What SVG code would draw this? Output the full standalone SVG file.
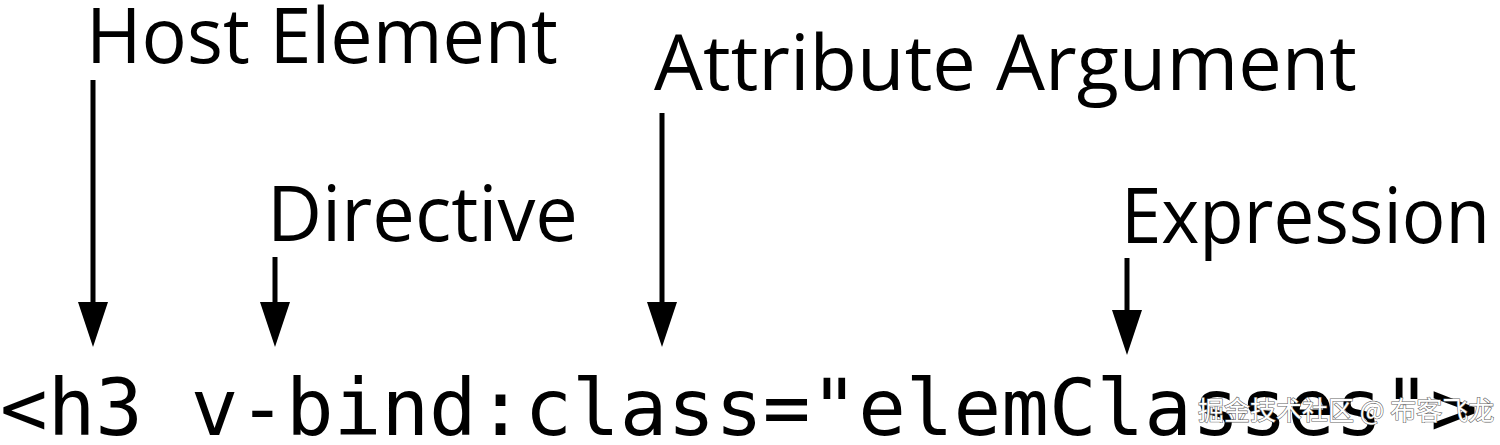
<svg xmlns="http://www.w3.org/2000/svg" width="1500" height="445" viewBox="0 0 1500 445">
<style>
.label{font-family:"Open Sans","Noto Sans","DejaVu Sans",sans-serif;font-size:77px;fill:#000}
.code{font-family:"DejaVu Sans Mono","Liberation Mono",monospace;font-size:79px;fill:#000}
.wm{font-family:"Noto Sans CJK SC","Noto Sans",sans-serif;font-size:26px;fill:#fff;stroke:#666;stroke-width:1.2px;paint-order:stroke}
.conn line{stroke:#000;stroke-width:5}
</style>
<defs>
<marker id="ah" viewBox="0 0 45 30" refX="0" refY="15" markerWidth="45" markerHeight="30" markerUnits="userSpaceOnUse" orient="auto">
<path d="M0,0 L45,15 L0,30 z" fill="#000"/>
</marker>
</defs>
<rect width="1500" height="445" fill="#fff"/>
<g id="host-element"><text class="label" x="86" y="63" textLength="472" lengthAdjust="spacingAndGlyphs">Host Element</text></g>
<g id="attribute-argument"><text class="label" x="654" y="90" textLength="703" lengthAdjust="spacingAndGlyphs">Attribute Argument</text></g>
<g id="directive"><text class="label" x="267" y="241" textLength="311" lengthAdjust="spacingAndGlyphs">Directive</text></g>
<g id="expression"><text class="label" x="1121" y="243" textLength="369" lengthAdjust="spacingAndGlyphs">Expression</text></g>
<g id="code"><text class="code" x="0" y="435" textLength="1478" lengthAdjust="spacingAndGlyphs">&lt;h3 v-bind:class="elemClasses"&gt;</text></g>
<g id="connectors" class="conn">
<line x1="93" y1="80" x2="93" y2="302" marker-end="url(#ah)"/>
<line x1="275" y1="257" x2="275" y2="302" marker-end="url(#ah)"/>
<line x1="662" y1="113" x2="662" y2="302" marker-end="url(#ah)"/>
<line x1="1127" y1="258" x2="1127" y2="310" marker-end="url(#ah)"/>
</g>
<g id="watermark"><text class="wm" x="1198" y="420">掘金技术社区 @ 布客飞龙</text></g>
</svg>
